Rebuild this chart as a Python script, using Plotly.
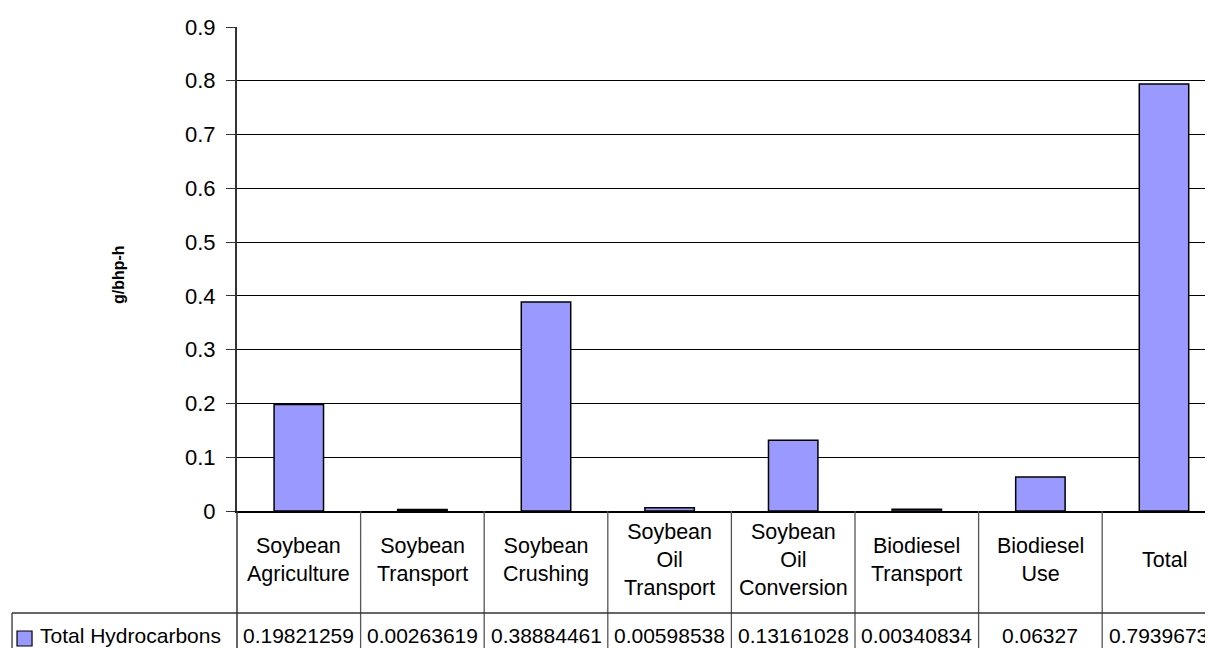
import plotly.graph_objects as go

stages = ['Soybean<br>Agriculture', 'Soybean<br>Transport', 'Soybean<br>Crushing',
          'Soybean<br>Oil<br>Transport', 'Soybean<br>Oil<br>Conversion',
          'Biodiesel<br>Transport', 'Biodiesel<br>Use', 'Total']
total_hc = [0.19821259, 0.00263619, 0.38884461, 0.00598538,
            0.13161028, 0.00340834, 0.06327, 0.79396738]
series_name = 'Total Hydrocarbons'
y_ticks = [0, 0.1, 0.2, 0.3, 0.4, 0.5, 0.6, 0.7, 0.8, 0.9]

FONT = 'Liberation Sans, Arial, sans-serif'
BAR_COLOR = '#9999FF'

x_pos = list(range(len(stages)))

fig = go.Figure()
fig.add_trace(go.Bar(x=x_pos, y=total_hc, name=series_name,
                     marker_color=BAR_COLOR,
                     marker_line_color='black',
                     marker_line_width=1.5,
                     showlegend=False))

# data table under the plot (excel style)
row_line = -0.2107   # line between header row and data row
table_bot = -0.32
shapes = []
for i in range(len(stages)):
    shapes.append(dict(type='line', xref='x', yref='paper',
                       x0=i + 0.5, x1=i + 0.5, y0=0, y1=table_bot,
                       line=dict(color='#555555', width=1.3)))
# y axis carried down through the table
shapes.append(dict(type='line', xref='paper', yref='paper', x0=0, x1=0,
                   y0=0, y1=table_bot, line=dict(color='#333333', width=1.5)))
# row separator and legend cell
shapes.append(dict(type='line', xref='paper', yref='paper', x0=-0.2305, x1=1,
                   y0=row_line, y1=row_line, line=dict(color='#333333', width=1.3)))
shapes.append(dict(type='line', xref='paper', yref='paper', x0=-0.2305, x1=-0.2305,
                   y0=row_line, y1=table_bot, line=dict(color='#333333', width=1.3)))
# legend key
shapes.append(dict(type='rect', xref='paper', yref='paper',
                   x0=-0.2254, x1=-0.2100, y0=-0.2479, y1=-0.2789,
                   fillcolor=BAR_COLOR, line=dict(color='black', width=1.2)))

annotations = []
for i, (name, v) in enumerate(zip(stages, total_hc)):
    annotations.append(dict(x=i, y=-0.1012, xref='x', yref='paper', text=name,
                            showarrow=False, xanchor='center', yanchor='middle',
                            font=dict(family=FONT, size=21.5, color='black')))
    annotations.append(dict(x=i, y=-0.2562, xref='x', yref='paper', text=str(v),
                            showarrow=False, xanchor='center', yanchor='middle',
                            font=dict(family=FONT, size=21, color='black')))
annotations.append(dict(x=-0.2039, y=-0.2562, xref='paper', yref='paper',
                        text=series_name, showarrow=False,
                        xanchor='left', yanchor='middle',
                        font=dict(family=FONT, size=21, color='black')))
annotations.append(dict(x=-0.1219, y=0.4876, xref='paper', yref='paper',
                        text='<b>g/bhp-h</b>', textangle=-90, showarrow=False,
                        xanchor='center', yanchor='middle',
                        font=dict(family=FONT, size=16, color='black')))

# page body has an 8px margin, so the figure is 8px smaller and shifted
fig.update_layout(
    width=1205, height=640,
    margin=dict(l=229, r=0, t=19, b=137),
    paper_bgcolor='white', plot_bgcolor='white',
    bargap=0.6,
    shapes=shapes,
    annotations=annotations,
    font=dict(family=FONT, color='black'),
)
fig.update_xaxes(range=[-0.5, -0.5 + 976 / 123.6], showticklabels=False,
                 showgrid=False, zeroline=False, ticks='',
                 showline=True, linecolor='black', linewidth=2)
fig.update_yaxes(range=[0, 0.9], tickvals=y_ticks,
                 ticktext=[('%g' % t) for t in y_ticks],
                 showgrid=True, gridcolor='black', gridwidth=1,
                 zeroline=False, showline=True, linecolor='#333333', linewidth=2,
                 ticks='outside', ticklen=9, tickcolor='#333333', tickwidth=1,
                 ticklabelstandoff=6,
                 tickfont=dict(family=FONT, size=22, color='black'))

fig.write_html("out.html")
